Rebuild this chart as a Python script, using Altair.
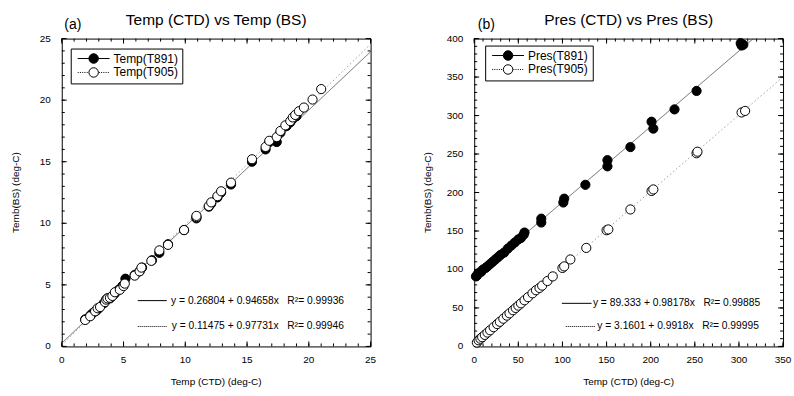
import altair as alt
import pandas as pd

FONT = "Liberation Sans"
NB = "\u00a0"

# ---------------- panel (a): temperature ----------------
a_series = ["Temp(T891)", "Temp(T905)"]
a891_x = [1.9, 2.3, 2.5, 2.8, 3.0, 3.4, 3.6, 3.7, 3.9, 4.1, 4.3, 4.6, 4.9, 5.15, 5.9,
          6.3, 6.5, 7.3, 7.9, 8.6, 9.9, 10.9, 11.9, 12.1, 12.6, 12.9, 13.7, 15.4, 16.5, 16.8,
          17.4, 17.7, 18.2, 18.5, 18.7, 19.0]
a891_y = [2.2, 2.5, 2.7, 2.9, 3.1, 3.5, 3.8, 3.9, 3.9, 4.1, 4.3, 4.6, 4.9, 5.5, 5.8,
          6.1, 6.4, 7.0, 7.6, 8.3, 9.45, 10.4, 11.35, 11.6, 12.1, 12.5, 13.15, 15.0, 16.0, 16.6,
          16.6, 17.35, 17.9, 18.2, 18.5, 18.7]
a905_x = [1.9, 2.3, 2.7, 2.9, 3.1, 3.5, 3.6, 3.7, 3.9, 4.1, 4.3, 4.7, 5.0, 5.1, 5.9,
          6.3, 6.45, 7.25, 7.9, 8.6, 9.9, 10.9, 10.9, 11.9, 12.1, 12.6, 12.9, 13.7, 15.4, 16.5,
          16.8, 17.4, 17.7, 18.1, 18.5, 18.7, 18.9, 19.2, 19.6, 20.3, 21.0]
a905_y = [2.15, 2.45, 2.85, 3.1, 3.2, 3.6, 3.8, 3.9, 3.95, 4.1, 4.4, 4.6, 4.9, 5.1, 5.75,
          6.1, 6.4, 6.95, 7.8, 8.25, 9.45, 10.5, 10.6, 11.4, 11.7, 12.2, 12.6, 13.3, 15.2, 16.2,
          16.7, 17.0, 17.5, 17.95, 18.3, 18.6, 18.8, 19.1, 19.4, 20.05, 20.9]
a_fit_b = [0.26804, 0.11475]
a_fit_m = [0.94658, 0.97731]
a_eq = ["y = 0.26804 + 0.94658x" + NB * 3 + "R\u00b2= 0.99936",
        "y = 0.11475 + 0.97731x" + NB * 3 + "R\u00b2= 0.99946"]
a_x_major = [0, 5, 10, 15, 20, 25]
a_x_minor = list(range(0, 26))
a_y_major = [0, 5, 10, 15, 20, 25]
a_y_minor = list(range(0, 26))

# ---------------- panel (b): pressure ----------------
b_series = ["Pres(T891)", "Pres(T905)"]
b891_x = [2, 3, 4, 6, 8, 10, 13, 15, 18, 21, 24, 27, 30, 34, 38, 42, 46, 50, 53, 56,
          57, 76, 76, 101, 102, 126, 151, 151, 177, 201, 203, 227, 252, 302, 303, 305]
b891_y = [91, 92, 94, 96, 97, 100, 102, 104, 107, 110, 113, 116, 119, 122, 127, 131, 135, 139, 141, 145,
          148, 161, 166, 187, 192, 210, 234, 242, 259, 292, 283, 308, 332, 394, 391, 392]
b905_x = [3, 5, 7, 9, 12, 15, 18, 22, 26, 29, 33, 37, 40, 44, 47, 50, 53, 57, 61, 66,
          70, 74, 77, 83, 89, 100, 102, 109, 127, 150, 152, 177, 201, 203, 252, 253, 303, 307]
b905_y = [5, 8, 10, 12, 15, 18, 21, 25, 29, 32, 36, 40, 43, 47, 50, 53, 56, 60, 64, 69,
          73, 76, 79, 85, 91, 102, 104, 113, 128, 151, 152, 178, 202, 204, 251, 253, 304, 306]
b_fit_b = [89.333, 3.1601]
b_fit_m = [0.98178, 0.9918]
b_eq = ["y = 89.333 + 0.98178x" + NB * 3 + "R\u00b2= 0.99885",
        "y = 3.1601 + 0.9918x" + NB * 3 + "R\u00b2= 0.99995"]
b_x_major = [0, 50, 100, 150, 200, 250, 300, 350]
b_x_minor = list(range(0, 351, 10))
b_y_major = [0, 50, 100, 150, 200, 250, 300, 350, 400]
b_y_minor = list(range(0, 401, 10))

x_title = "Temp (CTD) (deg-C)"
y_title = "Temb(BS) (deg-C)"


def dotted_path():
    segs = []
    s = -3.2
    while s < -1.05:
        segs.append(f"M{s:.2f},0L{s + 0.2:.2f},0")
        s += 0.45
    s = 1.05
    while s < 3.2:
        segs.append(f"M{s:.2f},0L{s + 0.2:.2f},0")
        s += 0.45
    return "".join(segs)


CIRCLE = "M-0.95,0A0.95,0.95,0,1,1,0.95,0A0.95,0.95,0,1,1,-0.95,0Z"
PATH_SOLID = "M-3.2,0L-0.95,0M0.95,0L3.2,0" + CIRCLE
PATH_DOT = dotted_path() + CIRCLE


def panel(pid, x1, y1, x2, y2, names, xdom, ydom, xmaj, xmin, ymaj, ymin,
          fit_b, fit_m, eq, ann, title, tag, tag_x, leg_xy, w, h):
    pts = pd.DataFrame({
        "x": x1 + x2,
        "y": y1 + y2,
        "series": [names[0]] * len(x1) + [names[1]] * len(x2),
    })
    fits = pd.DataFrame({
        "series": names + names,
        "b": fit_b + fit_b,
        "m": fit_m + fit_m,
        "x": [xdom[0], xdom[0], xdom[1], xdom[1]],
    })
    xs = alt.Scale(domain=xdom, nice=False, zero=False)
    ys = alt.Scale(domain=ydom, nice=False, zero=False)
    kx = (xdom[1] - xdom[0]) / w   # data units per pixel
    ky = (ydom[1] - ydom[0]) / h

    def X(field):
        return alt.X(f"{field}:Q", scale=xs, axis=None)

    def Y(field):
        return alt.Y(f"{field}:Q", scale=ys, axis=None)

    def XD(v):
        return alt.XDatum(v, scale=xs, axis=None)

    def YD(v):
        return alt.YDatum(v, scale=ys, axis=None)

    def fit_line(name, color, dash):
        return alt.Chart(fits).transform_filter(alt.datum.series == name).transform_calculate(
            y="datum.b + datum.m * datum.x"
        ).mark_line(clip=True, strokeWidth=0.8, color=color, strokeDash=dash).encode(
            x=X("x"), y=Y("y"))

    line891 = fit_line(names[0], "#444444", [1, 0])
    line905 = fit_line(names[1], "#888888", [1.5, 2.5])

    def pts_layer(name, fill):
        return alt.Chart(pts).transform_filter(
            alt.datum.series == name
        ).mark_circle(size=85, fill=fill, stroke="black", strokeWidth=1, opacity=1).encode(
            x=X("x"), y=Y("y"))

    p891 = pts_layer(names[0], "black")
    p905 = pts_layer(names[1], "white")

    # inward ticks on all four sides, as rules from each tick value to a short length inside
    def xticks(vals, at, px, sign, key):
        col = f"{pid}_{key}"
        df = pd.DataFrame({col: vals, col + "_a": [at] * len(vals),
                           col + "_b": [at + sign * px * ky] * len(vals)})
        return alt.Chart(df).mark_rule(color="black", strokeWidth=1).encode(
            x=X(col), y=Y(col + "_a"), y2=alt.Y2(col + "_b"))

    def yticks(vals, at, px, sign, key):
        col = f"{pid}_{key}"
        df = pd.DataFrame({col: vals, col + "_a": [at] * len(vals),
                           col + "_b": [at + sign * px * kx] * len(vals)})
        return alt.Chart(df).mark_rule(color="black", strokeWidth=1).encode(
            y=Y(col), x=X(col + "_a"), x2=alt.X2(col + "_b"))

    ticks = [
        xticks(xmaj, ydom[0], 5, 1, "xbM"), xticks(xmin, ydom[0], 3, 1, "xbm"),
        xticks(xmaj, ydom[1], 5, -1, "xtM"), xticks(xmin, ydom[1], 3, -1, "xtm"),
        yticks(ymaj, xdom[0], 5, 1, "ylM"), yticks(ymin, xdom[0], 3, 1, "ylm"),
        yticks(ymaj, xdom[1], 5, -1, "yrM"), yticks(ymin, xdom[1], 3, -1, "yrm"),
    ]

    # tick labels and axis titles
    xl = f"{pid}_xlab"
    yl = f"{pid}_ylab"
    xlabels = alt.Chart(pd.DataFrame({xl: xmaj})).mark_text(
        align="center", baseline="top", fontSize=10, dy=9
    ).encode(x=X(xl), y=YD(ydom[0]), text=alt.Text(f"{xl}:Q", format="d"))
    ylabels = alt.Chart(pd.DataFrame({yl: ymaj})).mark_text(
        align="right", baseline="middle", fontSize=10, dx=-11
    ).encode(y=Y(yl), x=XD(xdom[0]), text=alt.Text(f"{yl}:Q", format="d"))
    one = pd.DataFrame({"k": [0]})
    xtitle = alt.Chart(one).mark_text(align="center", baseline="top", fontSize=10, dy=31,
                                      text=x_title).encode(
        x=XD((xdom[0] + xdom[1]) / 2), y=YD(ydom[0]))
    ytitle = alt.Chart(one).mark_text(align="center", baseline="middle", fontSize=10, angle=270,
                                      text=y_title).encode(
        x=XD(xdom[0] - 46 * kx), y=YD((ydom[0] + ydom[1]) / 2))

    leg = dict(title=None, orient="none", legendX=leg_xy[0], legendY=leg_xy[1],
               strokeColor="black", fillColor="white", padding=4,
               symbolSize=100, symbolOffset=13, labelOffset=14, labelFontSize=12,
               labelFont=FONT, symbolStrokeColor="black", symbolStrokeWidth=1,
               symbolOpacity=1, rowPadding=0, labelColor="black")
    legend_layer = alt.Chart(pts).mark_point(filled=True, opacity=0, size=100, strokeWidth=1).encode(
        x=X("x"), y=Y("y"),
        fill=alt.Fill("series:N", scale=alt.Scale(domain=names, range=["black", "white"]),
                      legend=alt.Legend(**leg)),
        stroke=alt.Stroke("series:N", scale=alt.Scale(domain=names, range=["black", "black"]),
                          legend=alt.Legend(**leg)),
        shape=alt.Shape("series:N", scale=alt.Scale(domain=names, range=[PATH_SOLID, PATH_DOT]),
                        legend=alt.Legend(**leg)),
    )

    (lx0, lx1, tx1, ly1), (dx0, dx1, tx2, ly2) = ann
    rule1 = alt.Chart(one).mark_rule(color="black", strokeWidth=1).encode(
        x=XD(lx0), x2=alt.X2Datum(lx1), y=YD(ly1))
    rule2 = alt.Chart(one).mark_rule(color="black", strokeWidth=1, strokeDash=[1, 1]).encode(
        x=XD(dx0), x2=alt.X2Datum(dx1), y=YD(ly2))
    txt1 = alt.Chart(one).mark_text(align="left", baseline="middle", fontSize=10.3, text=eq[0]).encode(
        x=XD(tx1), y=YD(ly1))
    txt2 = alt.Chart(one).mark_text(align="left", baseline="middle", fontSize=10.3, text=eq[1]).encode(
        x=XD(tx2), y=YD(ly2))
    tag_txt = alt.Chart(one).mark_text(align="left", baseline="alphabetic", fontSize=14, dy=-10,
                                       fontWeight="normal", text=tag).encode(
        x=XD(tag_x), y=YD(ydom[1]))
    title_txt = alt.Chart(one).mark_text(align="center", baseline="alphabetic", fontSize=15.5, dy=-14,
                                         fontWeight="normal", text=title).encode(
        x=XD((xdom[0] + xdom[1]) / 2), y=YD(ydom[1]))

    return alt.layer(line891, line905, *ticks, p891, p905, legend_layer, rule1, rule2,
                     txt1, txt2, xlabels, ylabels, xtitle, ytitle, tag_txt, title_txt
                     ).properties(width=w, height=h)


left = panel("a", a891_x, a891_y, a905_x, a905_y, a_series, [0, 25], [0, 25],
             a_x_major, a_x_minor, a_y_major, a_y_minor, a_fit_b, a_fit_m, a_eq,
             ((6.15, 8.5, 8.85, 3.72), (6.15, 8.55, 8.9, 1.62)),
             "Temp (CTD) vs Temp (BS)", "(a)", 0.2, (9, 10), 310, 309)
right = panel("b", b891_x, b891_y, b905_x, b905_y, b_series, [0, 350], [0, 400],
              b_x_major, b_x_minor, b_y_major, b_y_minor, b_fit_b, b_fit_m, b_eq,
              ((99.3, 133, 134.5, 56), (103.8, 136.6, 139.5, 25.9)),
              "Pres (CTD) vs Pres (BS)", "(b)", 4.0, (11, 7), 310, 309)

chart = alt.hconcat(left, right, spacing=104, bounds="flush").resolve_scale(
    fill="independent", shape="independent", stroke="independent"
).resolve_legend(fill="independent", shape="independent", stroke="independent").properties(
    padding={"left": 10, "top": 11, "right": 2, "bottom": 2}
).configure_view(stroke="black", strokeWidth=1).configure_text(font=FONT, color="black")

chart.save("out.html", embed_options={"renderer": "svg", "actions": False})
